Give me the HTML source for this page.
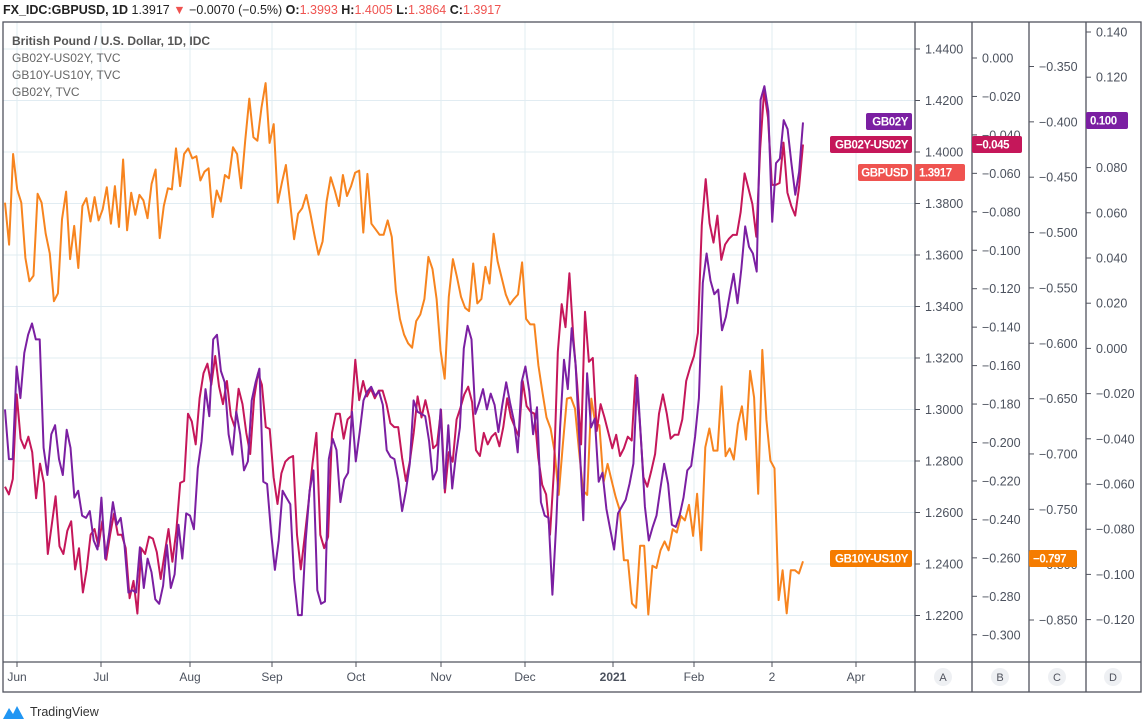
<!DOCTYPE html>
<html><head><meta charset="utf-8">
<style>
body{margin:0;width:1144px;height:724px;background:#fff;overflow:hidden;font-family:"Liberation Sans",sans-serif;}
svg{position:absolute;left:0;top:0;}
</style></head>
<body>
<svg id="chart" width="1144" height="724" xmlns="http://www.w3.org/2000/svg"></svg>
<script>
// ---- data ----
const monthLabels = ["Jun","Jul","Aug","Sep","Oct","Nov","Dec","2021","Feb","2","Apr"];
const axisATicks = [1.44,1.42,1.40,1.38,1.36,1.34,1.32,1.30,1.28,1.26,1.24,1.22];
const axisBTicks = [0,-0.02,-0.04,-0.06,-0.08,-0.10,-0.12,-0.14,-0.16,-0.18,-0.20,-0.22,-0.24,-0.26,-0.28,-0.30];
const axisCTicks = [-0.35,-0.40,-0.45,-0.50,-0.55,-0.60,-0.65,-0.70,-0.75,-0.80,-0.85];
const axisDTicks = [0.14,0.12,0.10,0.08,0.06,0.04,0.02,0,-0.02,-0.04,-0.06,-0.08,-0.10,-0.12];
const gb10Spread = [-0.473,-0.511,-0.429,-0.461,-0.473,-0.523,-0.544,-0.539,-0.465,-0.473,-0.501,-0.519,-0.562,-0.555,-0.488,-0.463,-0.524,-0.494,-0.532,-0.476,-0.469,-0.490,-0.468,-0.489,-0.479,-0.459,-0.492,-0.458,-0.495,-0.434,-0.498,-0.464,-0.484,-0.466,-0.471,-0.487,-0.456,-0.443,-0.505,-0.476,-0.460,-0.461,-0.424,-0.458,-0.429,-0.424,-0.433,-0.431,-0.453,-0.445,-0.442,-0.486,-0.462,-0.472,-0.448,-0.451,-0.423,-0.429,-0.460,-0.417,-0.379,-0.414,-0.417,-0.387,-0.365,-0.419,-0.402,-0.473,-0.455,-0.439,-0.472,-0.506,-0.483,-0.478,-0.466,-0.483,-0.502,-0.520,-0.508,-0.472,-0.450,-0.462,-0.476,-0.448,-0.467,-0.458,-0.446,-0.444,-0.500,-0.447,-0.492,-0.497,-0.502,-0.502,-0.489,-0.504,-0.553,-0.578,-0.592,-0.600,-0.604,-0.580,-0.574,-0.560,-0.522,-0.533,-0.560,-0.607,-0.632,-0.558,-0.524,-0.540,-0.558,-0.568,-0.571,-0.528,-0.564,-0.560,-0.531,-0.546,-0.501,-0.526,-0.541,-0.556,-0.565,-0.560,-0.556,-0.527,-0.578,-0.583,-0.583,-0.620,-0.644,-0.667,-0.677,-0.698,-0.737,-0.692,-0.650,-0.649,-0.659,-0.698,-0.733,-0.737,-0.650,-0.673,-0.674,-0.726,-0.709,-0.724,-0.739,-0.751,-0.796,-0.796,-0.835,-0.839,-0.783,-0.783,-0.845,-0.801,-0.803,-0.787,-0.779,-0.787,-0.768,-0.771,-0.756,-0.760,-0.746,-0.774,-0.736,-0.787,-0.694,-0.677,-0.697,-0.697,-0.639,-0.702,-0.695,-0.705,-0.673,-0.657,-0.687,-0.625,-0.649,-0.736,-0.606,-0.669,-0.706,-0.713,-0.832,-0.805,-0.844,-0.805,-0.805,-0.808,-0.797];
const gb02Spread = [-0.223,-0.227,-0.219,-0.175,-0.198,-0.203,-0.197,-0.205,-0.229,-0.211,-0.221,-0.258,-0.243,-0.228,-0.254,-0.258,-0.246,-0.241,-0.266,-0.255,-0.278,-0.266,-0.248,-0.245,-0.254,-0.241,-0.261,-0.248,-0.237,-0.248,-0.248,-0.255,-0.281,-0.272,-0.289,-0.255,-0.258,-0.249,-0.250,-0.257,-0.271,-0.258,-0.245,-0.262,-0.246,-0.221,-0.220,-0.185,-0.189,-0.201,-0.177,-0.164,-0.159,-0.170,-0.155,-0.171,-0.180,-0.168,-0.186,-0.192,-0.172,-0.180,-0.195,-0.206,-0.177,-0.164,-0.170,-0.192,-0.193,-0.218,-0.232,-0.216,-0.210,-0.208,-0.207,-0.248,-0.266,-0.249,-0.231,-0.211,-0.195,-0.248,-0.255,-0.249,-0.195,-0.185,-0.185,-0.198,-0.188,-0.186,-0.157,-0.178,-0.168,-0.176,-0.172,-0.177,-0.173,-0.173,-0.180,-0.190,-0.192,-0.192,-0.208,-0.220,-0.210,-0.195,-0.176,-0.187,-0.178,-0.187,-0.203,-0.201,-0.183,-0.226,-0.205,-0.210,-0.188,-0.182,-0.175,-0.171,-0.179,-0.204,-0.207,-0.195,-0.201,-0.197,-0.195,-0.202,-0.192,-0.177,-0.187,-0.192,-0.197,-0.168,-0.181,-0.184,-0.185,-0.208,-0.222,-0.227,-0.248,-0.215,-0.153,-0.128,-0.140,-0.112,-0.145,-0.170,-0.201,-0.132,-0.158,-0.156,-0.194,-0.180,-0.187,-0.195,-0.203,-0.196,-0.207,-0.203,-0.197,-0.199,-0.165,-0.187,-0.218,-0.223,-0.215,-0.206,-0.185,-0.175,-0.185,-0.198,-0.196,-0.196,-0.188,-0.168,-0.161,-0.155,-0.143,-0.087,-0.063,-0.086,-0.096,-0.082,-0.105,-0.097,-0.094,-0.092,-0.092,-0.080,-0.060,-0.068,-0.076,-0.093,-0.047,-0.017,-0.031,-0.066,-0.066,-0.065,-0.044,-0.070,-0.077,-0.082,-0.067,-0.045];
const gb02Yield = [-0.027,-0.049,-0.049,-0.008,-0.022,-0.002,0.006,0.011,0.004,0.004,-0.044,-0.056,-0.038,-0.034,-0.049,-0.056,-0.036,-0.044,-0.066,-0.063,-0.074,-0.075,-0.072,-0.085,-0.089,-0.066,-0.093,-0.082,-0.068,-0.078,-0.075,-0.087,-0.108,-0.107,-0.108,-0.088,-0.106,-0.093,-0.099,-0.111,-0.113,-0.105,-0.087,-0.106,-0.100,-0.078,-0.093,-0.073,-0.074,-0.080,-0.053,-0.041,-0.018,-0.030,0.004,0.006,-0.010,-0.015,-0.038,-0.047,-0.028,-0.038,-0.054,-0.050,-0.023,-0.015,-0.009,-0.059,-0.060,-0.081,-0.098,-0.085,-0.063,-0.066,-0.069,-0.102,-0.118,-0.118,-0.085,-0.063,-0.054,-0.107,-0.113,-0.112,-0.049,-0.040,-0.045,-0.068,-0.058,-0.055,-0.028,-0.050,-0.037,-0.023,-0.019,-0.017,-0.021,-0.019,-0.025,-0.045,-0.048,-0.049,-0.058,-0.072,-0.063,-0.051,-0.023,-0.028,-0.029,-0.030,-0.041,-0.058,-0.054,-0.027,-0.062,-0.034,-0.062,-0.047,-0.035,0.000,0.010,0.004,-0.029,-0.024,-0.018,-0.027,-0.020,-0.025,-0.037,-0.025,-0.015,-0.024,-0.032,-0.046,-0.015,-0.008,-0.019,-0.038,-0.026,-0.068,-0.074,-0.075,-0.109,-0.077,-0.035,-0.005,-0.018,0.009,-0.007,-0.041,-0.076,-0.011,-0.035,-0.031,-0.059,-0.055,-0.071,-0.080,-0.089,-0.073,-0.070,-0.067,-0.060,-0.051,-0.013,-0.041,-0.070,-0.085,-0.079,-0.074,-0.062,-0.051,-0.060,-0.078,-0.079,-0.074,-0.066,-0.054,-0.052,-0.039,-0.022,0.029,0.042,0.030,0.024,0.026,0.008,0.014,0.024,0.033,0.020,0.035,0.054,0.045,0.042,0.034,0.110,0.116,0.105,0.056,0.082,0.084,0.101,0.097,0.082,0.068,0.078,0.100];

// ---- geometry ----
const NS='http://www.w3.org/2000/svg';
const svg=document.getElementById('chart');
const PL=3, PR=915, PT=22, PB=662;
const X0=5, X1=803;
function xIdx(i,n){return X0+(X1-X0)*i/(n-1);}
function yA(v){return 49+(1.44-v)/0.02*51.5;}
function yB(v){return 58+(0-v)/0.02*38.45;}
function yC(v){return 66.5+(-0.35-v)/0.05*55.35;}
function yD(v){return 32+(0.14-v)/0.02*45.2;}
const monthX=[17,101,190,272,356,441,525,613,694,772,856];
function el(tag,attrs,parent){const e=document.createElementNS(NS,tag);for(const k in attrs)e.setAttribute(k,attrs[k]);(parent||svg).appendChild(e);return e;}
function fmt(v,d){return (v<0?'\u2212':'')+Math.abs(v).toFixed(d);}

// grid
const grid=el('g',{});


axisATicks.forEach(v=>{const l=el('line',{x1:PL,x2:PR,y1:yA(v),y2:yA(v),stroke:'#e1ecf2','stroke-width':1},grid);

});
monthX.forEach(x=>{const l=el('line',{x1:x,x2:x,y1:PT,y2:PB,stroke:'#e1ecf2','stroke-width':1},grid);

});

// series
function drawSeries(vals,yf,color,name){
  const pts=vals.map((v,i)=>xIdx(i,vals.length).toFixed(1)+','+yf(v).toFixed(1)).join(' ');
  const p=el('polyline',{points:pts,fill:'none',stroke:color,'stroke-width':2,'stroke-linejoin':'round'});
  
  
}
drawSeries(gb10Spread,yC,'#f7841f','gb10y-us10y-line');
drawSeries(gb02Spread,yB,'#c5175a','gb02y-us02y-line');
drawSeries(gb02Yield,yD,'#7b1fa2','gb02y-line');

// frames
const fr=el('g',{fill:'none',stroke:'#50535e','stroke-width':1.3});


el('rect',{x:3,y:22,width:1138,height:670},fr);
[915,972,1029,1086].forEach(x=>el('line',{x1:x,x2:x,y1:22,y2:692},fr));
el('line',{x1:3,x2:1141,y1:662,y2:662},fr);

// axis ticks and labels
function drawAxis(ticks,yf,x,d,name){
  const g=el('g',{});
  
  
  ticks.forEach(v=>{
    const y=yf(v);
    el('line',{x1:x,x2:x+5,y1:y,y2:y,stroke:'#50535e','stroke-width':1},g);
    const t=el('text',{x:x+10,y:y+4.5,'font-size':'12.5','fill':'#4c525e','font-family':'Liberation Sans, sans-serif'},g);
    t.textContent=fmt(v,d);
    
    
  });
}
drawAxis(axisATicks,yA,915,4,'gbpusd-axis');
drawAxis(axisBTicks,yB,972,3,'gb02y-us02y-axis');
drawAxis(axisCTicks,yC,1029,3,'gb10y-us10y-axis');
drawAxis(axisDTicks,yD,1086,3,'gb02y-axis');

// time axis
const ta=el('g',{});


monthLabels.forEach((m,i)=>{
  el('line',{x1:monthX[i],x2:monthX[i],y1:662,y2:667,stroke:'#50535e'},ta);
  const t=el('text',{x:monthX[i],y:681,'font-size':'12','text-anchor':'middle',fill:'#4c525e','font-weight':m==='2021'?'bold':'normal'},ta);
  t.textContent=m;
  
  
});
['A','B','C','D'].forEach((c,i)=>{
  const cx=[943,1000,1057,1113][i];
  const g=el('g',{});
  
  
  el('circle',{cx:cx,cy:677,r:9,fill:'#eef0f3'},g);
  const t=el('text',{x:cx,y:681,'font-size':'11','text-anchor':'middle',fill:'#50535e'},g);
  t.textContent=c;
});

// price labels
function tag(x,y,w,text,color,name,anchor){
  const g=el('g',{});
  
  
  el('rect',{x:x,y:y,width:w,height:17,rx:2,fill:color},g);
  const t=el('text',{x:anchor==='end'?x+w-4:x+4,y:y+12.5,'font-size':'11.5','font-weight':'bold',fill:'#fff','text-anchor':anchor||'start','letter-spacing':'-0.4'},g);
  t.textContent=text;
}
tag(866,113,46,'GB02Y','#7b1fa2','gb02y-name-tag','end');
tag(1086,112,42,'0.100','#7b1fa2','gb02y-value-tag');
tag(830,136,82,'GB02Y-US02Y','#c5175a','gb02y-us02y-name-tag','end');
tag(972,136,50,'\u22120.045','#c5175a','gb02y-us02y-value-tag');
tag(858,164,54,'GBPUSD','#ef5350','gbpusd-name-tag','end');
tag(915,164,50,'1.3917','#ef5350','gbpusd-value-tag');
tag(830,550,82,'GB10Y-US10Y','#f57c00','gb10y-us10y-name-tag','end');
tag(1029,550,48,'\u22120.797','#f57c00','gb10y-us10y-value-tag');

// legend
const leg=[['British Pound / U.S. Dollar, 1D, IDC','#555',true],['GB02Y-US02Y, TVC','#666',false],['GB10Y-US10Y, TVC','#666',false],['GB02Y, TVC','#666',false]];
leg.forEach((l,i)=>{
  const t=el('text',{x:12,y:45+i*17,'font-size':'12',fill:l[1],'font-weight':l[2]?'bold':'normal'});
  t.textContent=l[0];
  
  
});
</script>
<svg width="1144" height="22" style="position:absolute;left:0;top:0">
<text x="3" y="14" font-size="12.5" font-family="Liberation Sans, sans-serif" fill="#222"><tspan font-weight="bold">FX_IDC:GBPUSD, 1D</tspan> 1.3917 <tspan fill="#ef5350">▼</tspan> −0.0070 (−0.5%) <tspan font-weight="bold">O:</tspan><tspan fill="#ef5350">1.3993</tspan> <tspan font-weight="bold">H:</tspan><tspan fill="#ef5350">1.4005</tspan> <tspan font-weight="bold">L:</tspan><tspan fill="#ef5350">1.3864</tspan> <tspan font-weight="bold">C:</tspan><tspan fill="#ef5350">1.3917</tspan></text>
</svg>
<svg width="120" height="24" style="position:absolute;left:0;top:700">
<path d="M3 19 L9 8 L13 14 L17 6 L24 19 Z" fill="#2196f3"/>
<text x="30" y="16" font-size="12.5" font-family="Liberation Sans, sans-serif" fill="#333">TradingView</text>
</svg>
</body></html>
